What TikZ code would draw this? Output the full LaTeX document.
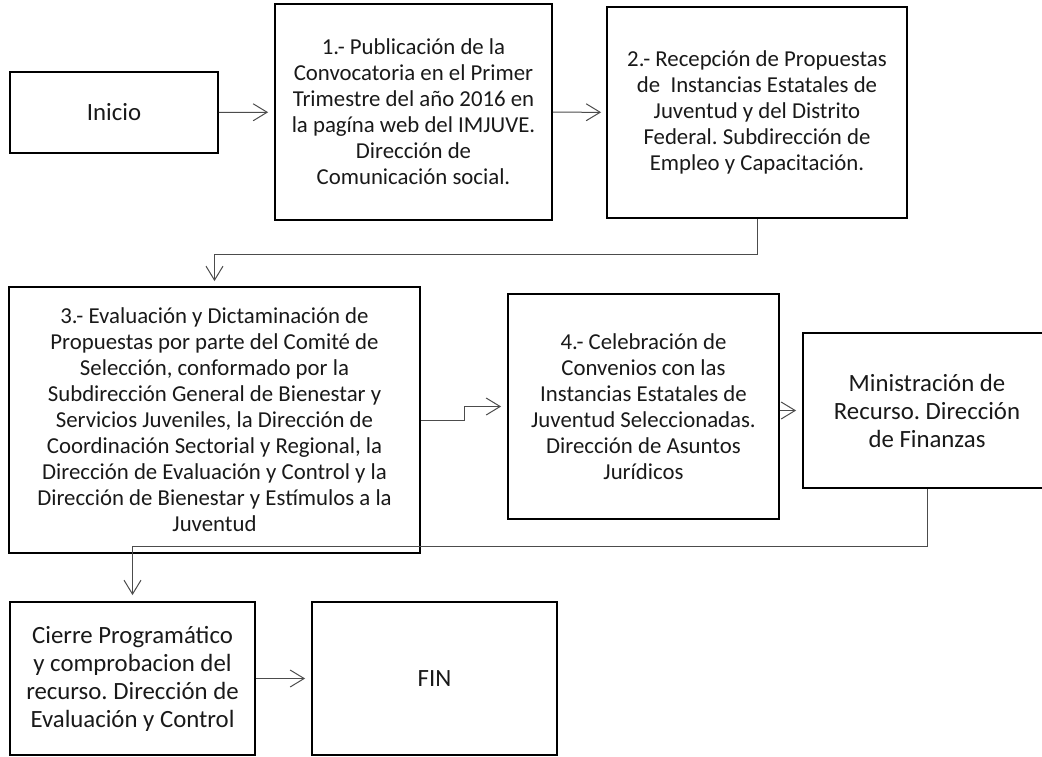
\documentclass[tikz,border=0pt]{standalone}
\usepackage{fontspec}
\setmainfont{Carlito}
\usetikzlibrary{arrows.meta}
\frenchspacing

\begin{document}
\begin{tikzpicture}[x=1pt,y=-1pt]
%%%%%%%%%%%%%%%%%%%%%%%%%%%%%%%%%%%%%%%%%%%%%%%%%%%%%%%%
% STYLE
\tikzstyle{box}=[rectangle,draw,line width=1.8pt,inner sep=0pt,align=center,text=black!90]
\tikzstyle{bs}=[box,font=\fontsize{22.8}{26}\selectfont]
\tikzstyle{bl}=[box,font=\fontsize{24.8}{28}\selectfont]
\tikzstyle{link}=[draw=black!70,line width=1pt,-{Straight Barb[length=14pt,width=17pt]},shorten >=6pt]

\clip (0,0) rectangle (1042,756);

%%%%%%%%%%%%%%%%%%%%%%%%%%%%%%%%%%%%%%%%%%%%%%%%%%%%%%%%
% NODES
\node[bl,minimum width=208,minimum height=81] (P0) at (114,112.5) {Inicio};

\node[bs,minimum width=277,minimum height=216] (P1) at (413.5,112) {1.- Publicación de la\\Convocatoria en el Primer\\Trimestre del año 2016 en\\la pagína web del IMJUVE.\\Dirección de\\Comunicación social.};
\node[bs,minimum width=300,minimum height=211] (P2) at (757,112.5) {2.- Recepción de Propuestas\\de\ \ Instancias Estatales de\\Juventud y del Distrito\\Federal. Subdirección de\\Empleo y Capacitación.};

\node[bs,minimum width=411,minimum height=266] (P3) at (214.5,420) {3.- Evaluación y Dictaminación de\\Propuestas por parte del Comité de\\Selección, conformado por la\\Subdirección General de Bienestar y\\Servicios Juveniles, la Dirección de\\Coordinación Sectorial y Regional, la\\Dirección de Evaluación y Control y la\\Dirección de Bienestar y Estímulos a la\\Juventud};
\node[bs,minimum width=271,minimum height=225] (P4) at (643.5,406.5) {4.- Celebración de\\Convenios con las\\Instancias Estatales de\\Juventud Seleccionadas.\\Dirección de Asuntos\\Jurídicos};
\node[bl,minimum width=248,minimum height=155] (P5) at (927,410.5) {Ministración de\\Recurso. Dirección\\de Finanzas};

\node[bl,minimum width=245,minimum height=153] (P6) at (132.5,678.5) {Cierre Programático\\y comprobacion del\\recurso. Dirección de\\Evaluación y Control};
\node[bl,minimum width=245,minimum height=153] (P7) at (434.5,678.5) {FIN};

%%%%%%%%%%%%%%%%%%%%%%%%%%%%%%%%%%%%%%%%%%%%%%%%%%%%%%%%
% LINKS
\draw[link] (P0) -- (P1);
\draw[link,shorten >=5pt] (P1) -- (P2);
\draw[link,shorten >=5pt] (P2.south) -- ++(0,36) -| (P3.north);
\draw[link] (P3.east) -- ++(44,0) |- (P4.west);
\draw[link] (P5.west -| P4.east) -- (P5.west);
\draw[link] (P5.south) -- ++(0,58) -| (P6.north);
\draw[link] (P6) -- (P7);

\end{tikzpicture}
\end{document}
